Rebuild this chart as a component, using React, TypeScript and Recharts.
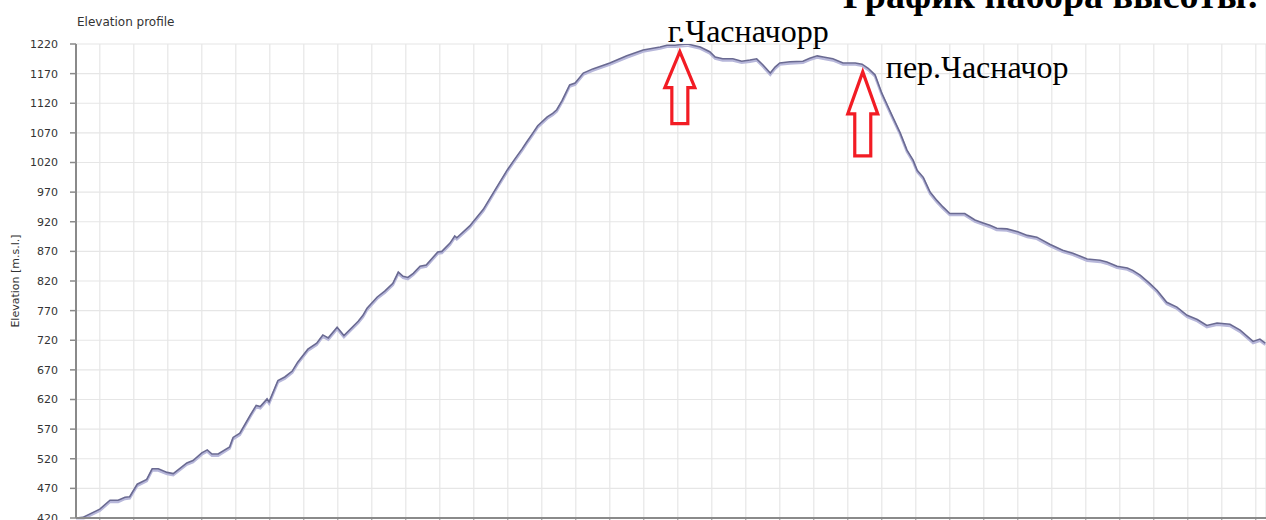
import React from 'react';
import { LineChart, Line, XAxis, YAxis, CartesianGrid, ReferenceDot } from 'recharts';

// distance along the route (km)
const distances = [
  0.0, 0.1, 0.35, 0.5, 0.62, 0.72, 0.79, 0.9, 1.04, 1.12, 1.21, 1.34, 1.43, 1.63, 1.72, 1.85, 1.93, 2.0, 2.09,
  2.26, 2.31, 2.41, 2.56, 2.65, 2.71, 2.81, 2.84, 2.97, 3.07, 3.18, 3.26, 3.41, 3.54, 3.63, 3.71, 3.84, 3.94,
  4.15, 4.22, 4.28, 4.43, 4.54, 4.66, 4.74, 4.81, 4.88, 4.96, 5.06, 5.15, 5.32, 5.38, 5.5, 5.57, 5.6, 5.79,
  5.99, 6.19, 6.34, 6.46, 6.56, 6.63, 6.72, 6.79, 6.93, 7.01, 7.07, 7.15, 7.26, 7.34, 7.46, 7.6, 7.85, 8.1,
  8.34, 8.59, 8.69, 8.81, 8.99, 9.18, 9.32, 9.4, 9.51, 9.66, 9.79, 9.91, 10.01, 10.1, 10.21, 10.28, 10.35,
  10.5, 10.69, 10.79, 10.9, 10.99, 11.13, 11.28, 11.46, 11.56, 11.65, 11.75, 11.85, 11.93, 12.01, 12.12,
  12.22, 12.31, 12.37, 12.46, 12.56, 12.66, 12.75, 12.85, 13.07, 13.22, 13.34, 13.44, 13.54, 13.69, 13.85,
  13.99, 14.13, 14.32, 14.51, 14.66, 14.87, 15.06, 15.16, 15.31, 15.46, 15.54, 15.65, 15.79, 15.9, 16.04,
  16.19, 16.34, 16.49, 16.63, 16.78, 16.97, 17.12, 17.31, 17.41, 17.49,
];

// elevation (m a.s.l.)
const elevations = [
  420, 421, 435, 450, 450, 455, 456, 477, 485, 503, 503, 497, 495, 513, 517, 530, 535, 528, 528,
  540, 556, 563, 593, 610, 608, 621, 616, 652, 658, 668, 683, 705, 715, 729, 724, 742, 728,
  752, 762, 774, 793, 803, 816, 835, 828, 826, 833, 845, 847, 869, 870, 884, 896, 893, 913,
  941, 979, 1007, 1027, 1043, 1055, 1070, 1082, 1097, 1103, 1109, 1125, 1151, 1154, 1171, 1178, 1188, 1200,
  1210, 1215, 1218, 1218, 1220, 1215, 1207, 1198, 1195, 1195, 1191, 1193, 1195, 1185, 1171, 1181, 1188,
  1190, 1191, 1196, 1200, 1198, 1195, 1188, 1188, 1186, 1179, 1168, 1137, 1117, 1097, 1070,
  1041, 1024, 1007, 995, 970, 956, 945, 934, 934, 923, 918, 914, 909, 908, 903,
  897, 894, 882, 872, 867, 857, 855, 852, 845, 842, 838, 830, 816, 804, 784,
  776, 762, 755, 745, 749, 747, 737, 718, 722, 715,
];

const yTicks = [420, 470, 520, 570, 620, 670, 720, 770, 820, 870, 920, 970, 1020, 1070, 1120, 1170, 1220];
const xTicks = [
  0.35, 0.85, 1.35, 1.85, 2.35, 2.85, 3.35, 3.85, 4.35, 4.85, 5.35, 5.85, 6.35, 6.85, 7.35, 7.85, 8.35, 8.85,
  9.35, 9.85, 10.35, 10.85, 11.35, 11.85, 12.35, 12.85, 13.35, 13.85, 14.35, 14.85, 15.35, 15.85, 16.35,
  16.85, 17.35,
];

const chartTitle = 'Elevation profile';
const yAxisTitle = 'Elevation [m.s.l.]';
const pageHeading = 'График набора высоты:';

const markNames = ['г.Часначорр', 'пер.Часначор'];
const markDist = [8.88, 11.57];
const markElev = [1207, 1173];

// arrow / label geometry (styling only)
const markStyle = [
  { len: 72, head: 36, labelDx: -12, labelDy: -10 },
  { len: 84, head: 42, labelDx: 23, labelDy: 6 },
];

const data = distances.map((d, i) => ({ d, e: elevations[i] }));

const makeArrow = (idx: number) => (props: any) => {
  const { cx, cy } = props;
  const s = markStyle[idx];
  const hw = 15;
  const sw = 8;
  const path = [
    `M ${cx} ${cy}`,
    `L ${cx + hw} ${cy + s.head}`,
    `L ${cx + sw} ${cy + s.head}`,
    `L ${cx + sw} ${cy + s.len}`,
    `L ${cx - sw} ${cy + s.len}`,
    `L ${cx - sw} ${cy + s.head}`,
    `L ${cx - hw} ${cy + s.head}`,
    'Z',
  ].join(' ');
  return (
    <g>
      <path d={path} fill="none" stroke="#f21c24" strokeWidth={3.2} strokeLinejoin="miter" />
      <text
        x={cx + s.labelDx}
        y={cy + s.labelDy}
        fontFamily="'Liberation Serif', 'Times New Roman', serif"
        fontSize={32}
        fill="#000"
      >
        {markNames[idx]}
      </text>
    </g>
  );
};

const NoTick = () => <g />;

export default function App() {
  return (
    <div style={{ position: 'absolute', left: 0, top: 0, width: 1266, height: 520, background: '#fff' }}>
      <style>{`.elev-shadow path { transform: translateY(1.6px); }`}</style>
      <LineChart width={1266} height={520} data={data} margin={{ top: 44, right: 0, bottom: 0, left: 0 }}>
        <CartesianGrid stroke="#e6e6e6" strokeWidth={1.2} />
        <XAxis
          dataKey="d"
          type="number"
          domain={[0, 17.5]}
          ticks={xTicks}
          interval={0}
          tick={NoTick}
          height={2}
          axisLine={{ stroke: '#8a8a8a', strokeWidth: 2 }}
          tickLine={{ stroke: '#8a8a8a' }}
          tickSize={4}
          allowDataOverflow
        />
        <YAxis
          type="number"
          domain={[420, 1220]}
          ticks={yTicks}
          width={76}
          interval={0}
          axisLine={{ stroke: '#8a8a8a', strokeWidth: 2 }}
          tickLine={{ stroke: '#8a8a8a', strokeWidth: 1.5 }}
          tickSize={6}
          tickMargin={12}
          tick={{ fill: '#333', fontSize: 11, fontFamily: "'DejaVu Sans', sans-serif" }}
          allowDataOverflow
          label={{
            value: yAxisTitle,
            angle: -90,
            position: 'insideLeft',
            dx: 10,
            dy: 0,
            style: { textAnchor: 'middle', fill: '#333', fontSize: 11, fontFamily: "'DejaVu Sans', sans-serif" },
          }}
        />
        <Line
          className="elev-shadow"
          dataKey="e"
          stroke="#b7b7da"
          strokeWidth={2.6}
          dot={false}
          activeDot={false}
          isAnimationActive={false}
          type="linear"
        />
        <Line
          dataKey="e"
          stroke="#6a6a92"
          strokeWidth={1.6}
          dot={false}
          activeDot={false}
          isAnimationActive={false}
          type="linear"
        />
        {markNames.map((n, i) => (
          <ReferenceDot
            key={n}
            x={markDist[i]}
            y={markElev[i]}
            r={1}
            ifOverflow="visible"
            shape={makeArrow(i)}
          />
        ))}
        <text x={77} y={26} fontSize={12} fill="#333" fontFamily="'DejaVu Sans', sans-serif">
          {chartTitle}
        </text>
        <text
          x={843}
          y={8}
          fontSize={38}
          fontWeight="bold"
          fill="#000"
          fontFamily="'Liberation Serif', 'Times New Roman', serif"
        >
          {pageHeading}
        </text>
      </LineChart>
    </div>
  );
}
